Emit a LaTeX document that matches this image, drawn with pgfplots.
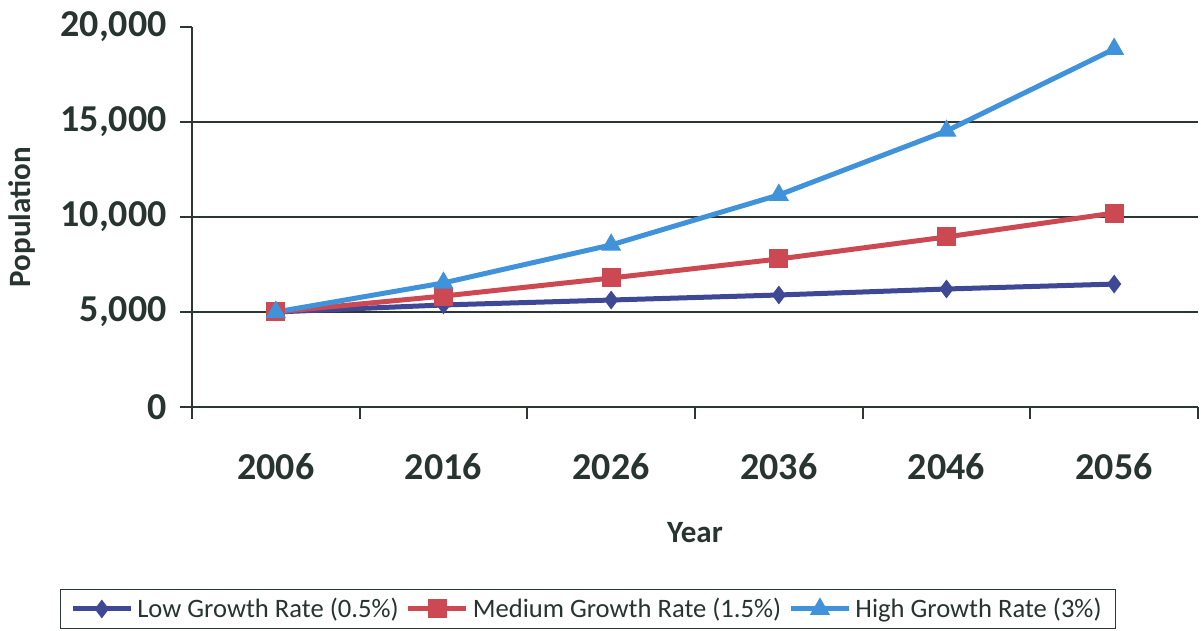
\documentclass[border=0pt]{standalone}
\usepackage{fontspec}
\setmainfont{Carlito}
\usepackage{pgfplots}
\pgfplotsset{compat=1.18}
\definecolor{txt}{RGB}{40,52,48}
\definecolor{gridc}{RGB}{45,55,50}
\definecolor{lowc}{RGB}{62,72,148}
\definecolor{medc}{RGB}{204,72,82}
\definecolor{highc}{RGB}{64,146,218}
\begin{document}
\begin{tikzpicture}
\useasboundingbox (-96pt,-112pt) rectangle (504.5pt,203.5pt);
\begin{axis}[
  at={(0,0)}, anchor=south west,
  scale only axis, width=503pt, height=190pt,
  xmin=-0.5, xmax=5.5, ymin=0, ymax=20000,
  scaled y ticks=false,
  axis x line*=bottom, axis y line*=left,
  axis line style={gridc, line width=1pt, -},
  xtick={0,...,5},
  xticklabels={2006,2016,2026,2036,2046,2056},
  minor xtick={-0.5,0.5,...,5.5},
  major x tick style={draw=none},
  minor x tick style={gridc, line width=1pt},
  minor tick length=6pt, major tick length=6pt,
  tick align=outside,
  ytick={0,5000,...,20000},
  yticklabels={0,{5,000},{10,000},{15,000},{20,000}},
  y tick style={gridc, line width=1pt},
  extra y ticks={5000,10000,15000},
  extra y tick labels={},
  extra y tick style={grid=major},
  major grid style={gridc, line width=1pt},
  yticklabel style={anchor=east, inner sep=0pt, xshift=-6.5pt, font=\bfseries\fontsize{19}{19}\selectfont, text=txt},
  xticklabel style={anchor=north, inner sep=0pt, yshift=-17pt, font=\bfseries\fontsize{19}{19}\selectfont, text=txt},
  xlabel={Year}, ylabel={Population},
  xlabel style={at={([yshift=-63pt]axis description cs:0.5,0)}, anchor=center, font=\bfseries\fontsize{15.5}{16}\selectfont, text=txt},
  ylabel style={at={([xshift=-85pt]axis description cs:0,0.5)}, anchor=center, font=\bfseries\fontsize{15.5}{16}\selectfont, text=txt},
  legend style={at={([yshift=-101pt]axis description cs:0.3936,0)}, anchor=center, legend columns=3, draw=gridc, line width=0.6pt, font=\fontsize{13.3}{14}\selectfont, text=txt, inner xsep=5pt, inner ysep=2pt,
    /tikz/every even column/.append style={column sep=1.6pt}},
  legend cell align=left,
  legend image code/.code={\draw[#1, mark repeat=2, mark phase=2] plot coordinates {(0pt,0pt) (14.5pt,0pt) (29pt,0pt)};},
]
\addplot[lowc, line width=2.5pt, mark=diamond*, mark size=4.3pt, mark options={solid, fill=lowc, line width=0.5pt}]
  coordinates {(0,5000) (1,5370) (2,5630) (3,5895) (4,6210) (5,6470)};
\addlegendentry{Low Growth Rate (0.5\%)}
\addplot[medc, line width=2.5pt, mark=square*, mark size=4.5pt, mark options={solid, fill=medc, line width=0.5pt}]
  coordinates {(0,5000) (1,5840) (2,6790) (3,7790) (4,8950) (5,10210)};
\addlegendentry{Medium Growth Rate (1.5\%)}
\addplot[highc, line width=2.5pt, mark=triangle*, mark size=5.3pt, mark options={solid, fill=highc, line width=0.5pt}]
  coordinates {(0,5000) (1,6530) (2,8530) (3,11160) (4,14530) (5,18840)};
\addlegendentry{High Growth Rate (3\%)}
\end{axis}
\end{tikzpicture}
\end{document}
